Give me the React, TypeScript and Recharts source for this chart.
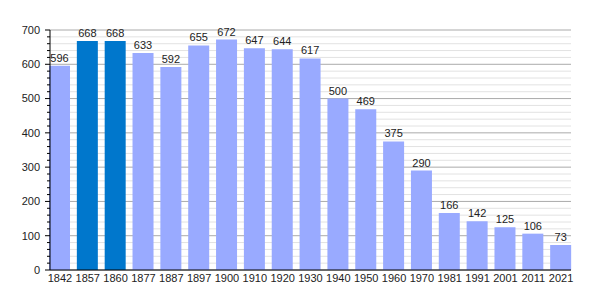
import React from "react"
import { BarChart, Bar, XAxis, YAxis, CartesianGrid, LabelList, Cell } from "recharts"

const years = ["1842", "1857", "1860", "1877", "1887", "1897", "1900", "1910", "1920", "1930", "1940", "1950", "1960", "1970", "1981", "1991", "2001", "2011", "2021"]
const population = [596, 668, 668, 633, 592, 655, 672, 647, 644, 617, 500, 469, 375, 290, 166, 142, 125, 106, 73]
const highlighted = ["1857", "1860"]
const yTicks = Array.from({ length: 36 }, (_, i) => i * 20)

const font = "'Liberation Sans', Arial, sans-serif"

const data = years.map((year, i) => ({ year, value: population[i] }))

// tick marks on the y axis: long ones with a label every 100, short ones in between
const YTick = (props: any) => {
  const { x, y, payload } = props
  const major = payload.value % 100 === 0
  return (
    <g>
      <line x1={x - (major ? 5 : 3)} x2={x} y1={y} y2={y} stroke="#000" strokeWidth={1} />
      {major && (
        <text x={x - 10} y={y} dy="0.35em" textAnchor="end" fontSize={11} fill="#222" fontFamily={font}>
          {payload.value}
        </text>
      )}
    </g>
  )
}

const GridLine = (props: any) => {
  const { x1, x2, y1, y2, index } = props
  const major = index % 5 === 0
  return <line x1={x1} x2={x2} y1={y1} y2={y2} stroke={major ? "#aaaaaa" : "#e2e2e2"} strokeWidth={1} />
}

export default function App() {
  return (
    <div style={{ position: "absolute", left: 0, top: 0, width: 600, height: 300, background: "#fff" }}>
      <BarChart width={600} height={300} data={data} margin={{ top: 30, right: 29, left: 0, bottom: 10 }}>
        <CartesianGrid vertical={false} horizontal={GridLine} />
        <XAxis
          dataKey="year"
          interval={0}
          tickSize={0}
          tickMargin={4}
          padding={{ left: -4, right: -4 }}
          axisLine={{ stroke: "#000" }}
          tick={{ fontSize: 11, fill: "#222", fontFamily: font }}
          height={20}
        />
        <YAxis
          width={50}
          domain={[0, 700]}
          ticks={yTicks}
          interval={0}
          tickLine={false}
          tickSize={0}
          tickMargin={0}
          axisLine={{ stroke: "#000" }}
          tick={<YTick />}
        />
        <Bar dataKey="value" barSize={21} isAnimationActive={false}>
          {data.map((d) => (
            <Cell key={d.year} fill={highlighted.includes(d.year) ? "#0077cc" : "#99aaff"} />
          ))}
          <LabelList dataKey="value" position="top" offset={4} fontSize={11} fill="#222" fontFamily={font} />
        </Bar>
      </BarChart>
    </div>
  )
}
